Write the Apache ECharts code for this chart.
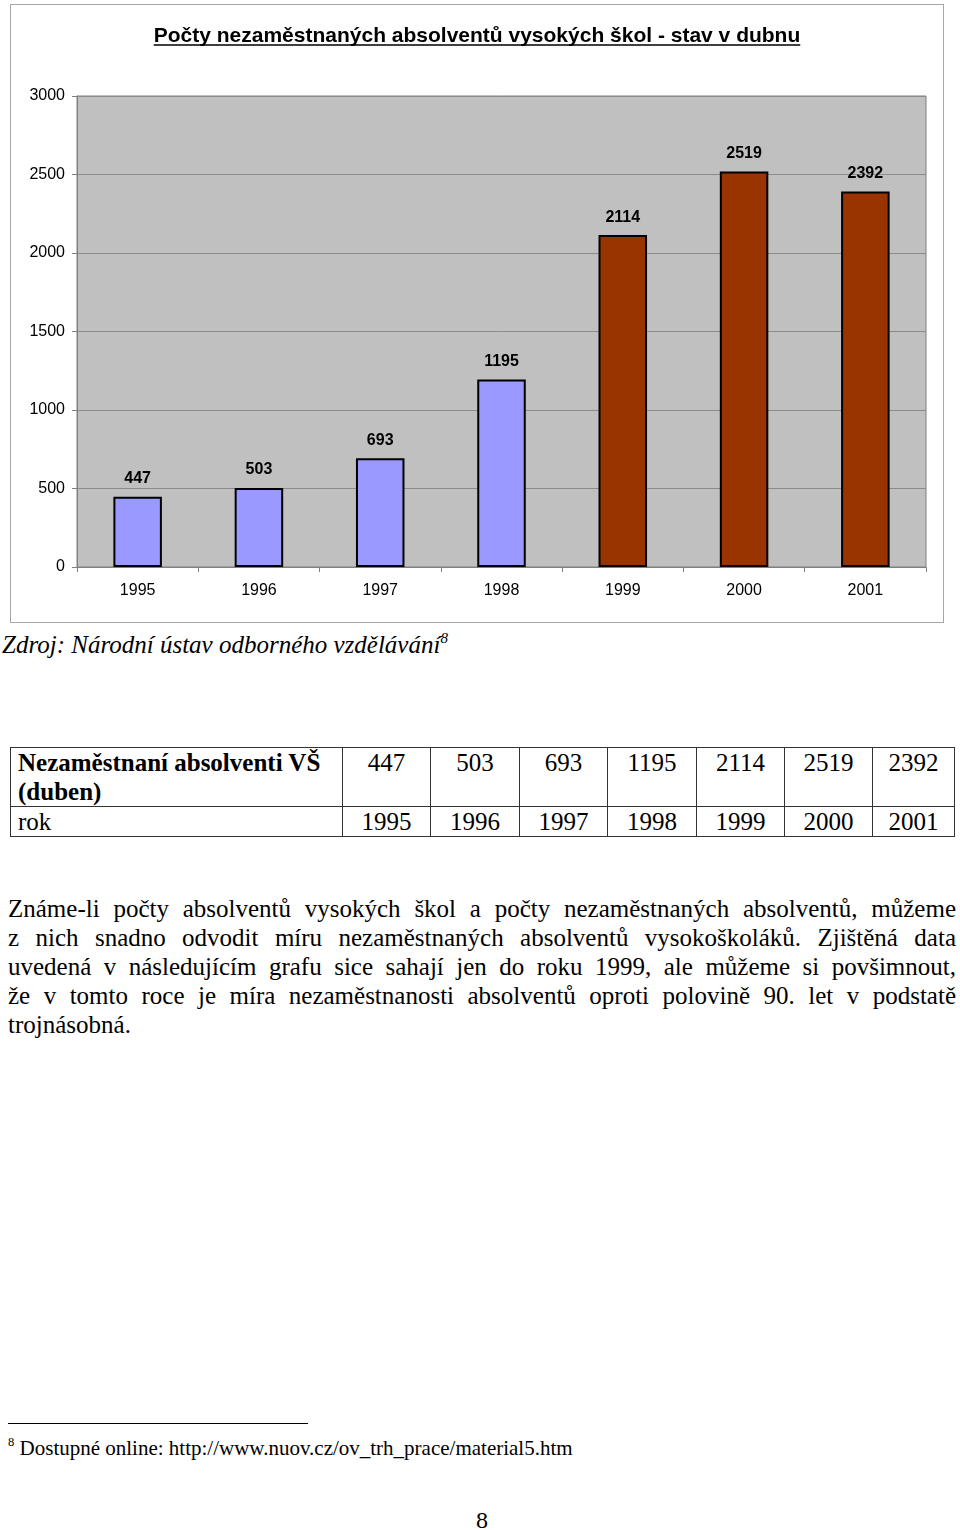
<!DOCTYPE html>
<html>
<head>
<meta charset="utf-8">
<script src="https://cdn.jsdelivr.net/npm/echarts@6/dist/echarts.min.js"></script>
<style>
  html, body { margin: 0; padding: 0; background: #fff; }
  body { width: 960px; height: 1530px; position: relative; overflow: hidden; font-family: "Liberation Serif", "Times New Roman", serif; color: #000; }
  #chart { position: absolute; left: 10px; top: 4px; width: 934px; height: 619px; }
  #frame { position: absolute; left: 10px; top: 4px; width: 932px; height: 617px; border: 1px solid #a6a6a6; pointer-events: none; }
  .src { position: absolute; left: 2px; top: 630px; font-size: 25px; font-style: italic; line-height: 30px; white-space: nowrap; }
  .src sup, .fn sup { font-size: 60%; line-height: 0; vertical-align: 0.7em; }
  table { position: absolute; left: 10px; top: 747px; border-collapse: collapse; table-layout: fixed; width: 944px; font-size: 25px; line-height: 29px; }
  td { border: 1px solid #333; padding: 0; vertical-align: top; text-align: center; white-space: nowrap; }
  td.h { text-align: left; padding-left: 7px; white-space: normal; }
  .para { position: absolute; left: 8px; top: 894px; width: 948px; font-size: 25px; line-height: 29px; }
  .para .ln { display: block; text-align: justify; text-align-last: justify; white-space: nowrap; }
  .para .ln.last { text-align: left; text-align-last: left; }
  .rule { position: absolute; left: 8px; top: 1423px; width: 300px; height: 1px; background: #000; }
  .fn { position: absolute; left: 8px; top: 1435px; font-size: 21px; line-height: 26px; white-space: nowrap; }
  .page { position: absolute; left: 476px; top: 1506px; font-size: 24px; line-height: 28px; }
</style>
</head>
<body>
<div id="chart"></div>
<div id="frame"></div>

<div class="src">Zdroj: Národní ústav odborného vzdělávání<sup>8</sup></div>

<table id="tbl">
  <colgroup>
    <col style="width:332px"><col style="width:88px"><col style="width:89px"><col style="width:88px">
    <col style="width:89px"><col style="width:88px"><col style="width:88px"><col style="width:82px">
  </colgroup>
  <tr id="rowVals"><td class="h"><b>Nezaměstnaní absolventi VŠ (duben)</b></td></tr>
  <tr id="rowYears"><td class="h">rok</td></tr>
</table>

<div class="para">
  <span class="ln">Známe-li počty absolventů vysokých škol a počty nezaměstnaných absolventů, můžeme</span>
  <span class="ln">z nich snadno odvodit míru nezaměstnaných absolventů vysokoškoláků. Zjištěná data</span>
  <span class="ln">uvedená v následujícím grafu sice sahají jen do roku 1999, ale můžeme si povšimnout,</span>
  <span class="ln">že v tomto roce je míra nezaměstnanosti absolventů oproti polovině 90. let v podstatě</span>
  <span class="ln last">trojnásobná.</span>
</div>

<div class="rule"></div>
<div class="fn"><sup>8</sup> Dostupné online: http://www.nuov.cz/ov_trh_prace/material5.htm</div>
<div class="page">8</div>

<script>
const chartTitle = 'Počty nezaměstnaných absolventů vysokých škol - stav v dubnu';
const years = ['1995', '1996', '1997', '1998', '1999', '2000', '2001'];
const unemployed = [447, 503, 693, 1195, 2114, 2519, 2392];
const yTicks = [0, 500, 1000, 1500, 2000, 2500, 3000];

// table cells built from the same arrays
const rv = document.getElementById('rowVals');
const ry = document.getElementById('rowYears');
unemployed.forEach((v) => {
  const td = document.createElement('td'); td.textContent = v; rv.appendChild(td);
});
years.forEach((y) => {
  const td = document.createElement('td'); td.textContent = y; ry.appendChild(td);
});

const font = '"Liberation Sans", Arial, sans-serif';
const titleSize = 21;
const chartW = 934;
const mctx = document.createElement('canvas').getContext('2d');
mctx.font = 'bold ' + titleSize + 'px ' + font;
const titleW = mctx.measureText(chartTitle).width;

const chart = echarts.init(document.getElementById('chart'), null, { renderer: 'canvas' });
chart.setOption({
  animation: false,
  title: {
    text: chartTitle,
    left: 'center',
    top: 17,
    textStyle: { fontFamily: font, fontSize: titleSize, fontWeight: 'bold', color: '#000' }
  },
  graphic: [{
    type: 'line',
    shape: { x1: chartW / 2 - titleW / 2, y1: 41, x2: chartW / 2 + titleW / 2, y2: 41 },
    style: { stroke: '#000', lineWidth: 1.5 }
  }],
  grid: {
    left: 67, right: 18, top: 92, bottom: 56,
    show: true, backgroundColor: '#c0c0c0', borderColor: '#808080', borderWidth: 1
  },
  xAxis: {
    type: 'category',
    data: years,
    axisLine: { lineStyle: { color: '#808080', width: 1 } },
    axisTick: { show: true, length: 5, lineStyle: { color: '#808080' } },
    axisLabel: { fontFamily: font, fontSize: 16, color: '#000', margin: 16 }
  },
  yAxis: {
    type: 'value',
    min: yTicks[0], max: yTicks[yTicks.length - 1], interval: 500,
    axisLine: { show: true, lineStyle: { color: '#808080', width: 1 } },
    axisTick: { show: true, length: 5, lineStyle: { color: '#808080' } },
    splitLine: { lineStyle: { color: '#8c8c8c', width: 1 } },
    axisLabel: { fontFamily: font, fontSize: 16, color: '#000', margin: 12, formatter: (v) => String(v) }
  },
  series: [{
    type: 'bar',
    data: unemployed,
    barWidth: '40%',
    itemStyle: {
      color: (p) => (Number(years[p.dataIndex]) < 1999 ? '#9999ff' : '#993300'),
      borderColor: '#000',
      borderWidth: 2
    },
    label: {
      show: true, position: 'top', distance: 10,
      fontFamily: font, fontSize: 16, fontWeight: 'bold', color: '#000'
    }
  }]
});
</script>
</body>
</html>
